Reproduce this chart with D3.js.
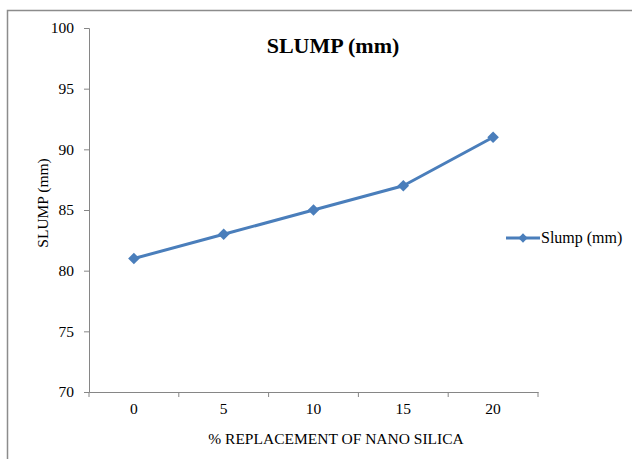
<!DOCTYPE html>
<html lang="en">
<head>
<meta charset="UTF-8">
<title>SLUMP (mm)</title>
<script src="https://d3js.org/d3.v7.min.js"></script>
<style>
    body { margin: 0; background: #fff; }
    text { font-family: "Liberation Serif", "Times New Roman", serif; fill: #000; }
    .axis path, .axis line { stroke: #868686; }
</style>
</head>
<body>
<svg width="632" height="459"></svg>
<script>
    var categories = ["0", "5", "10", "15", "20"];
    var slump = [81, 83, 85, 87, 91];
    var yTicks = [70, 75, 80, 85, 90, 95, 100];

    var svg = d3.select("svg");

    // chart frame (only top and left edges are visible in the crop)
    svg.append("path")
        .attr("d", "M7.5,459 V10.5 H632")
        .attr("fill", "none")
        .attr("stroke", "#8c8c8c")
        .attr("stroke-width", 1.5);

    var plotL = 89, plotR = 538, plotT = 28, plotB = 392;

    var x = d3.scaleBand().domain(categories).range([plotL, plotR]);
    var y = d3.scaleLinear().domain([70, 100]).range([plotB, plotT]);

    var yAxis = svg.append("g")
        .attr("class", "axis")
        .attr("transform", "translate(" + plotL + ",0)")
        .call(d3.axisLeft(y).tickValues(yTicks).tickSize(5).tickPadding(10));
    yAxis.selectAll("text").style("font-size", "15.5px").style("font-family", "Liberation Serif");

    var xAxis = svg.append("g")
        .attr("class", "axis")
        .attr("transform", "translate(0," + plotB + ")")
        .call(d3.axisBottom(x).tickSize(0).tickPadding(11));
    xAxis.selectAll("text").style("font-size", "15.5px").style("font-family", "Liberation Serif");
    // Excel-style ticks between categories
    xAxis.selectAll(".sep")
        .data(d3.range(categories.length + 1))
        .enter().append("line")
        .attr("x1", function(i) { return plotL + i * x.step(); })
        .attr("x2", function(i) { return plotL + i * x.step(); })
        .attr("y1", 0).attr("y2", 5)
        .attr("stroke", "#868686");

    svg.append("text")
        .attr("x", 333).attr("y", 53)
        .attr("text-anchor", "middle")
        .style("font-size", "22px").style("font-weight", "bold")
        .text("SLUMP (mm)");

    svg.append("text")
        .attr("transform", "translate(48,203) rotate(-90)")
        .attr("text-anchor", "middle")
        .style("font-size", "15.5px")
        .text("SLUMP (mm)");

    svg.append("text")
        .attr("x", 336).attr("y", 444)
        .attr("text-anchor", "middle")
        .style("font-size", "15.5px")
        .text("% REPLACEMENT OF NANO SILICA");

    var color = "#4a7ebb";
    var pts = categories.map(function(c, i) { return [x(c) + x.bandwidth() / 2, y(slump[i])]; });

    svg.append("path")
        .attr("d", d3.line()(pts))
        .attr("fill", "none")
        .attr("stroke", color)
        .attr("stroke-width", 3)
        .attr("stroke-linejoin", "round");

    var diamond = d3.symbol().type(d3.symbolDiamond2).size(85);
    svg.selectAll(".pt")
        .data(pts)
        .enter().append("path")
        .attr("transform", function(d) { return "translate(" + d[0] + "," + d[1] + ")"; })
        .attr("d", diamond)
        .attr("fill", color);

    // legend
    var lg = svg.append("g").attr("transform", "translate(506,238)");
    lg.append("line").attr("x1", 0).attr("x2", 34).attr("stroke", color).attr("stroke-width", 3);
    lg.append("path").attr("transform", "translate(17,0)").attr("d", d3.symbol().type(d3.symbolDiamond2).size(55)).attr("fill", color);
    lg.append("text").attr("x", 35).attr("y", 5).style("font-size", "16px").text("Slump (mm)");
</script>
</body>
</html>
